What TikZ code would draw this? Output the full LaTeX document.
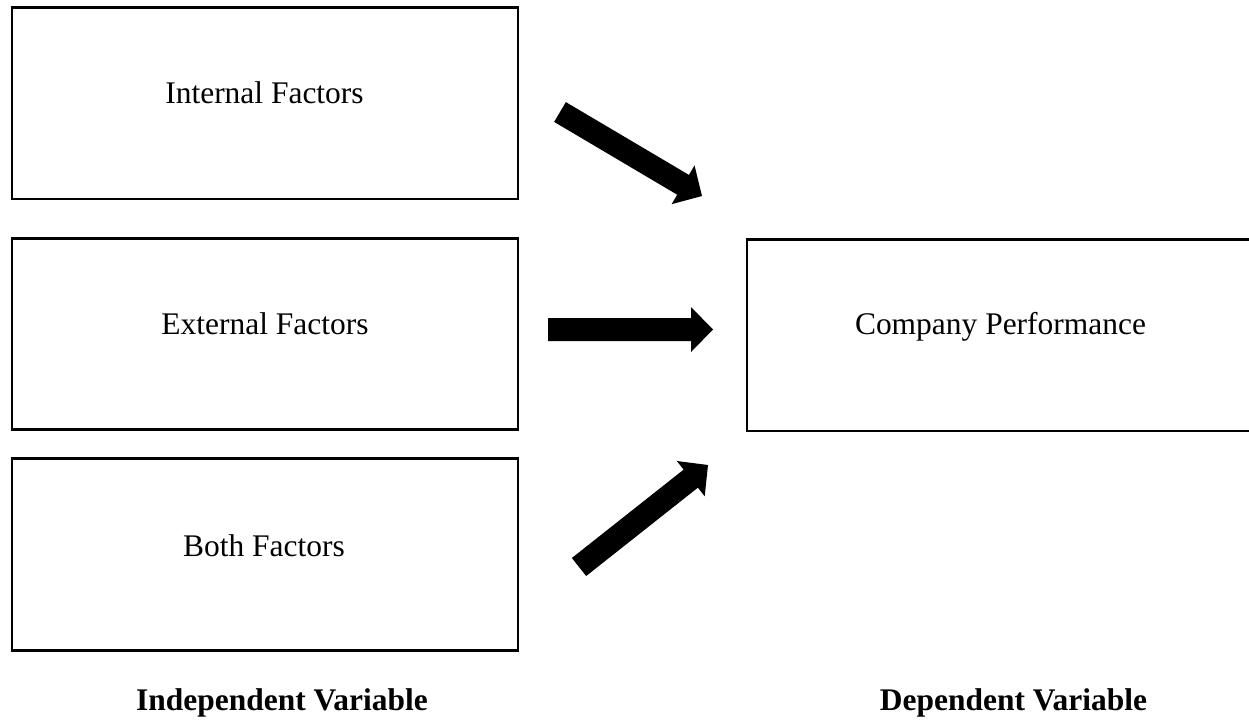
\documentclass[tikz,border=0pt]{standalone}
\usepackage{fontspec}
\setmainfont{Liberation Serif}
\usetikzlibrary{calc}
\newcommand\fatarrow[2]{%
  \coordinate (#1b) at ($(#2)!16.5pt!(#1)$);
  \fill[black] ($(#1)!8.625pt!-90:(#2)$) -- ($(#1b)!8.625pt!90:(#1)$) -- ($(#1b)!16.875pt!90:(#1)$) -- (#2)
     -- ($(#1b)!16.875pt!-90:(#1)$) -- ($(#1b)!8.625pt!-90:(#1)$) -- ($(#1)!8.625pt!90:(#2)$) -- cycle;}
\begin{document}
\begin{tikzpicture}[x=0.75pt,y=-0.75pt,
  box/.style={draw=black,line width=1.8pt,inner sep=0pt,outer sep=0pt,fill=none},
  lbl/.style={font=\fontsize{23.6}{28}\selectfont,anchor=base,inner sep=0pt},
  captext/.style={font=\fontsize{23.6}{28}\selectfont\bfseries,anchor=base,inner sep=0pt}]
\clip (0,0) rectangle (1249,719);
\fill[white] (0,0) rectangle (1249,719);
\node[box,minimum width=379.5pt,minimum height=143.6pt] (int) at (265,103.25) {};
\node[box,minimum width=379.5pt,minimum height=143.1pt] (ext) at (265,333.9) {};
\node[box,minimum width=379.5pt,minimum height=144pt] (both) at (265,554.5) {};
\node[box,minimum width=414.75pt,minimum height=143.8pt] (perf) at (1023.5,335.4) {};
\node[lbl] (inttxt) at (264.5,103) {Internal Factors};
\node[lbl] (exttxt) at (265,334) {External Factors};
\node[lbl] (bothtxt) at (264,556) {Both Factors};
\node[lbl] (perftxt) at (1000.5,334) {Company Performance};
\node[captext] (ind) at (282,710) {Independent Variable};
\node[captext] (dep) at (1013.5,710) {Dependent Variable};
\coordinate (a1s) at (560,112);
\coordinate (a1e) at (702,196);
\coordinate (a2s) at (548,329.5);
\coordinate (a2e) at (713,329.5);
\coordinate (a3s) at (579,567);
\coordinate (a3e) at (708,465);
\fatarrow{a1s}{a1e}
\fatarrow{a2s}{a2e}
\fatarrow{a3s}{a3e}
\end{tikzpicture}
\end{document}
